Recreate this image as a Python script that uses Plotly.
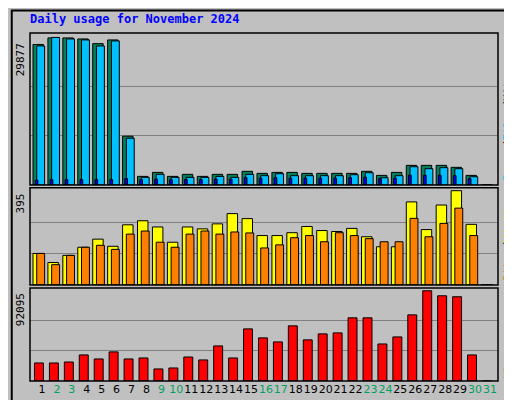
import plotly.graph_objects as go

days = list(range(1, 32))
hits = [28450, 29780, 29780, 29570, 28620, 29370, 9890, 1760, 2570, 1760, 2170, 1760, 2170, 2170, 2780,
        2370, 2570, 2570, 2370, 2370, 2370, 2370, 2780, 1960, 2570, 3990, 3990, 3990, 3590, 1960, 0]
files = [28150, 29877, 29570, 29370, 28150, 29170, 9480, 1560, 2170, 1560, 1560, 1560, 1760, 1560, 2170,
         1900, 2300, 1900, 1900, 1900, 1900, 2100, 2500, 1490, 1900, 3720, 3320, 3520, 3320, 1690, 0]
pages = [1000, 1100, 1100, 1100, 1100, 1100, 1300, 1100, 1200, 1100, 1100, 1100, 1200, 1200, 1500,
         1400, 1500, 1400, 1400, 1400, 1400, 1500, 1600, 1300, 1400, 2000, 2000, 2000, 1900, 1300, 0]
visits = [132, 94, 124, 158, 192, 162, 252, 269, 243, 179, 243, 235, 256, 299, 278,
          207, 207, 219, 245, 228, 224, 237, 202, 160, 160, 348, 232, 335, 395, 254, 0]
sites = [132, 85, 124, 158, 166, 149, 213, 226, 179, 158, 213, 226, 213, 222, 218,
         155, 168, 198, 207, 181, 219, 207, 194, 181, 181, 279, 202, 258, 322, 207, 0]
kbytes = [18400, 18400, 19400, 26600, 22500, 29700, 22500, 23500, 12300, 13300, 24500, 21500, 35800, 23500, 53200,
          44000, 39900, 56300, 42000, 48100, 49100, 64500, 64500, 37800, 45000, 67500, 92095, 87000, 86000, 26600, 0]
weekends = [2, 3, 9, 10, 16, 17, 23, 24, 30, 31]

bg = '#C0C0C0'
line = dict(color='black', width=1)
fig = go.Figure()

def bar(y, color, yaxis, offset, width):
  fig.add_trace(go.Bar(x=days, y=y, marker=dict(color=color, line=line), yaxis=yaxis,
                       offset=offset, width=width, showlegend=False))

bar(hits, '#00805C', 'y', -0.6, 0.7)
bar(files, '#00C0FF', 'y', -0.35, 0.53)
bar(pages, '#0000FF', 'y', -0.45, 0.18)
bar(visits, '#FFFF00', 'y2', -0.6, 0.7)
bar(sites, '#FF8000', 'y2', -0.35, 0.53)
bar(kbytes, '#FF0000', 'y3', -0.5, 0.6)

ticktext = [f'<span style="color:#00A060">{d}</span>' if d in weekends else str(d) for d in days]

fig.update_layout(
  width=512, height=400, paper_bgcolor=bg, plot_bgcolor=bg, barmode='overlay',
  margin=dict(l=22, r=22, t=25, b=27, autoexpand=False),
  font=dict(family='DejaVu Sans Mono', size=11, color='black'),
  xaxis=dict(range=[0.2, 31.54], tickvals=days, ticktext=ticktext, showgrid=False, anchor='y3',
             ticks='', zeroline=False, tickangle=0, automargin=False,
             tickfont=dict(family='DejaVu Sans', size=11)),
)

def yax(mx, domain):
  return dict(domain=domain, range=[0, mx * 1.03], tickvals=[mx / 3, 2 * mx / 3], showticklabels=False,
              gridcolor='#808080', gridwidth=1, zeroline=False, anchor='x', automargin=False)

fig.update_layout(yaxis=yax(29877, [0.563, 1]), yaxis2=yax(395, [0.276, 0.555]),
                  yaxis3=yax(92095, [0, 0.267]))

shapes = [dict(type='rect', xref='paper', yref='paper', x0=-0.039, x1=1.039, y0=-0.072, y1=1.065,
               line=dict(color='black', width=2))]
for d in [[0.563, 1], [0.276, 0.555], [0, 0.267]]:
  shapes.append(dict(type='rect', xref='paper', yref='paper', x0=0, x1=1, y0=d[0], y1=d[1],
                     line=dict(color='black', width=1.5)))
fig.update_layout(shapes=shapes)

ann = [
  dict(text='<b>Daily usage for November 2024</b>', x=-0.005, y=1.04, xanchor='left', yanchor='middle',
       font=dict(color='#0000FF', size=12)),
  dict(text='29877', x=-0.003, y=0.975, xanchor='right', yanchor='top', textangle=-90),
  dict(text='395', x=-0.003, y=0.545, xanchor='right', yanchor='top', textangle=-90),
  dict(text='92095', x=-0.003, y=0.257, xanchor='right', yanchor='top', textangle=-90),
  dict(text='<span style="color:#00C0FF">Pages</span>/<span style="color:#00C0FF">Files</span>/<span style="color:#00805C">Hits</span>',
       x=1.003, y=0.57, xanchor='left', yanchor='bottom', textangle=-90),
  dict(text='<span style="color:#FF8000">Sites</span>/<span style="color:#E0E000">Visits</span>',
       x=1.003, y=0.28, xanchor='left', yanchor='bottom', textangle=-90),
  dict(text='<span style="color:#FF0000">KBytes</span>',
       x=1.003, y=0.0, xanchor='left', yanchor='bottom', textangle=-90),
]
for a in ann:
  a.update(xref='paper', yref='paper', showarrow=False)
fig.update_layout(annotations=ann)

fig.write_html('out.html')
